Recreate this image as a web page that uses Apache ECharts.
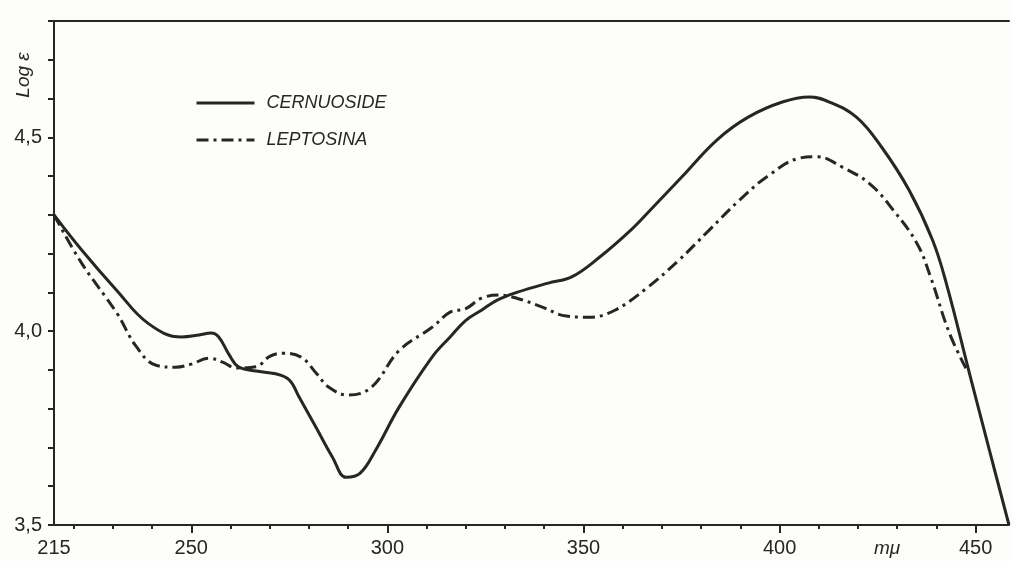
<!DOCTYPE html>
<html>
<head>
<meta charset="utf-8">
<script src="https://cdn.jsdelivr.net/npm/echarts@6/dist/echarts.min.js"></script>
<style>
html,body{margin:0;padding:0;background:#fdfdf9;}
#c{width:1011px;height:561px;}
</style>
</head>
<body>
<div id="c"></div>
<script>
// Wavelength (mμ) and Log ε readings
var cernuosideX = [215,222,231,239,247.5,252,255,257,259.6,262,266.5,271.5,275,277.5,281.8,286,289.5,293,297,303,311.4,316,320,324,328,333,341,347,354,362,367,375,384,392,400.7,407.6,412.7,419.6,426,433,439,442.5,448.4,453.5,458.5];
var cernuosideY = [4.30,4.21,4.105,4.02,3.985,3.99,3.995,3.985,3.94,3.908,3.897,3.89,3.874,3.83,3.752,3.675,3.623,3.633,3.693,3.804,3.933,3.985,4.028,4.054,4.08,4.10,4.124,4.14,4.19,4.26,4.312,4.397,4.493,4.552,4.591,4.604,4.591,4.552,4.475,4.364,4.235,4.124,3.892,3.693,3.50];
var leptosinaX = [215,222,231,236,241,246,250,254.5,258,261.4,266.5,270,273.2,278,282,285,290,296,303,311.4,316,320,324,328.5,333,339.5,345.6,351.5,358,366,374,382,390,397,405,409.5,416,423,429,435,438.5,443.3,448];
var leptosinaY = [4.30,4.176,4.047,3.96,3.912,3.907,3.915,3.93,3.92,3.905,3.908,3.935,3.943,3.933,3.89,3.856,3.835,3.856,3.95,4.01,4.049,4.058,4.085,4.093,4.085,4.062,4.039,4.036,4.054,4.11,4.18,4.26,4.34,4.40,4.446,4.45,4.423,4.38,4.312,4.227,4.14,3.995,3.895];
var xLabelValues = [215,250,300,350,400,450];
var xMinorTicks = [220,230,240,250,260,270,280,290,300,310,320,330,340,350,360,370,380,390,400,410,420,430,440,450];
var xMajorTicks = [250,300,350,400,450];
var yLabelValues = [3.5,4.0,4.5];
var seriesNames = ['CERNUOSIDE','LEPTOSINA'];

function pairs(xs, ys){ return xs.map(function(x,i){ return [x, ys[i]]; }); }

var ink = '#262626';
var chart = echarts.init(document.getElementById('c'), null, {renderer:'canvas'});
chart.setOption({
  backgroundColor: '#fdfdf9',
  animation: false,
  grid: {left: 54, right: 2, top: 21, bottom: 36, containLabel: false},
  legend: {
    data: seriesNames,
    orient: 'vertical',
    left: 190, top: 89,
    itemWidth: 58, itemHeight: 14, itemGap: 19,
    itemStyle: {opacity: 0},
    lineStyle: {width: 3},
    textStyle: {fontFamily: 'Liberation Sans, Arial', fontStyle: 'italic', fontSize: 18, color: ink, padding: [0,0,0,7]}
  },
  xAxis: [
    {type: 'value', min: 215, max: 458.5, position: 'bottom',
     axisLine: {show: true, onZero: false, lineStyle: {color: ink, width: 2}},
     axisTick: {show: true, length: 4, inside: false, customValues: xMinorTicks, lineStyle: {color: ink, width: 2}},
     axisLabel: {show: true, customValues: xLabelValues, margin: 13, fontSize: 20, color: ink, fontFamily: 'Liberation Sans, Arial'},
     splitLine: {show: false}},
    {type: 'value', min: 215, max: 458.5, position: 'bottom',
     axisLine: {show: false},
     axisTick: {show: true, length: 8, customValues: xMajorTicks, lineStyle: {color: ink, width: 2}},
     axisLabel: {show: false}, splitLine: {show: false}},
    {type: 'value', min: 215, max: 458.5, position: 'top',
     axisLine: {show: true, onZero: false, lineStyle: {color: ink, width: 2}},
     axisTick: {show: false}, axisLabel: {show: false}, splitLine: {show: false}}
  ],
  yAxis: {
    type: 'value', min: 3.5, max: 4.8, interval: 0.1,
    axisLine: {show: true, onZero: false, lineStyle: {color: ink, width: 2}},
    axisTick: {show: true, length: 6, lineStyle: {color: ink, width: 2}},
    axisLabel: {show: true, customValues: yLabelValues, margin: 12, fontSize: 20, color: ink, fontFamily: 'Liberation Sans, Arial',
      formatter: function(v){ return v.toFixed(1).replace('.', ','); }},
    splitLine: {show: false}
  },
  series: [
    {name: seriesNames[0], type: 'line', xAxisIndex: 0, data: pairs(cernuosideX, cernuosideY),
     symbol: 'none', smooth: 0.4, lineStyle: {color: ink, width: 3}, itemStyle: {color: ink}},
    {name: seriesNames[1], type: 'line', xAxisIndex: 0, data: pairs(leptosinaX, leptosinaY),
     symbol: 'none', smooth: 0.4, lineStyle: {color: ink, width: 3, type: [12,5,3,5]}, itemStyle: {color: ink}}
  ],
  graphic: [
    {type: 'text', x: 24, y: 75, rotation: Math.PI/2,
     style: {text: 'Log ε', fontSize: 19, fontStyle: 'italic', fontFamily: 'Liberation Sans, Arial', fill: ink, textAlign: 'center', textVerticalAlign: 'middle'}},
    {type: 'text', x: 887, y: 549,
     style: {text: 'mμ', fontSize: 19, fontStyle: 'italic', fontFamily: 'Liberation Sans, Arial', fill: ink, textAlign: 'center', textVerticalAlign: 'middle'}}
  ]
});
</script>
</body>
</html>
